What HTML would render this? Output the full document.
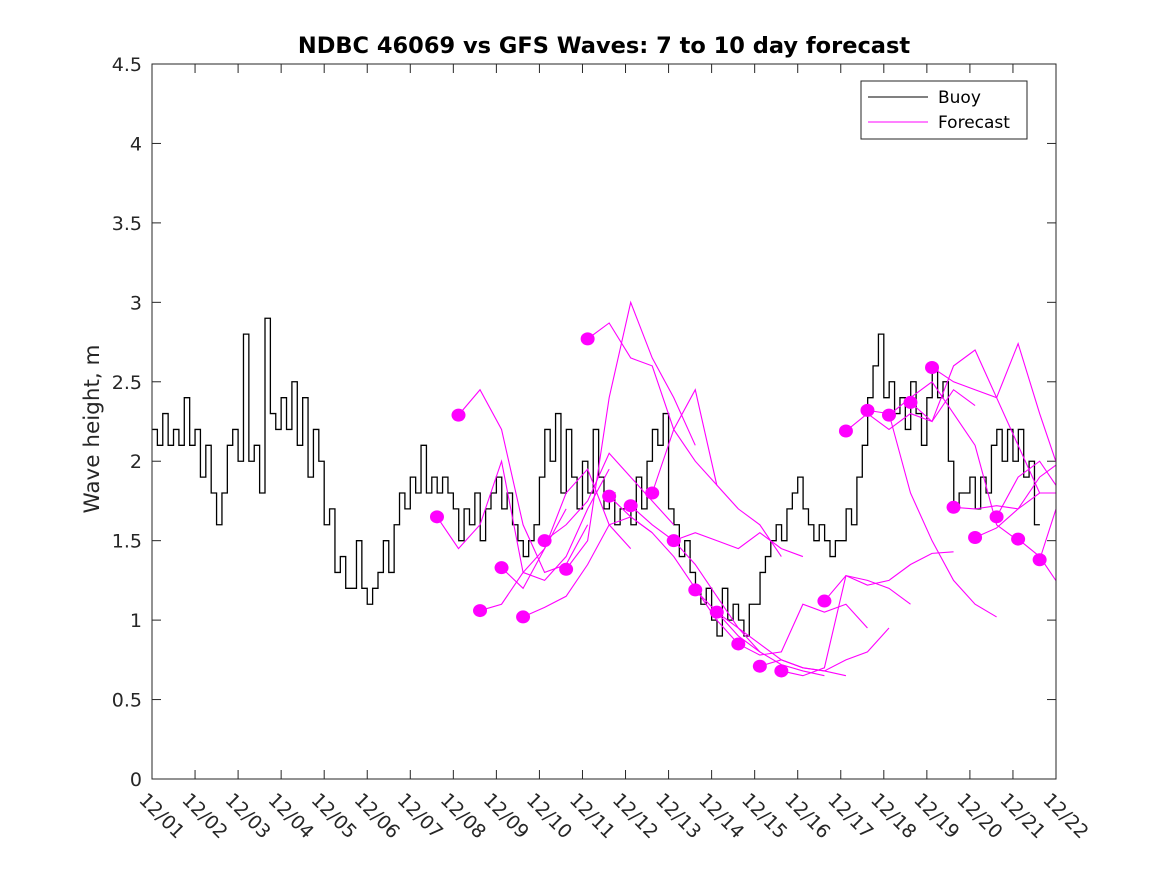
<!DOCTYPE html>
<html><head><meta charset="utf-8"><style>
body{margin:0;background:#fff}
svg{display:block;font-family:"DejaVu Sans","Liberation Sans",sans-serif}
</style></head><body>
<svg id="chart" width="1167" height="875" viewBox="0 0 1167 875" xmlns="http://www.w3.org/2000/svg">
<rect width="1167" height="875" fill="#fff"/>
<text x="604" y="53" text-anchor="middle" font-size="22.5" font-weight="bold" fill="#000">NDBC 46069 vs GFS Waves: 7 to 10 day forecast</text>
<text transform="translate(99,429) rotate(-90)" text-anchor="middle" font-size="21.5" fill="#262626">Wave height, m</text>
<defs><clipPath id="pc"><rect x="152" y="64" width="904" height="715"/></clipPath></defs>
<g id="axes"></g>
<g id="buoy" clip-path="url(#pc)"></g>
<g id="fc" clip-path="url(#pc)"></g>
<rect x="152" y="64" width="904" height="715" fill="none" stroke="#262626" stroke-width="1"/>
<g>
<rect x="861" y="81" width="166" height="58" fill="#fff" stroke="#262626"/>
<line x1="868" y1="97" x2="928" y2="97" stroke="#000"/>
<text x="938" y="103" font-size="17" fill="#000">Buoy</text>
<line x1="868" y1="122" x2="928" y2="122" stroke="#f0f"/>
<text x="938" y="128" font-size="17" fill="#000">Forecast</text>
</g>
</svg>
<script>
const yTicks=[0,0.5,1,1.5,2,2.5,3,3.5,4,4.5];
const yTickLabels=["0","0.5","1","1.5","2","2.5","3","3.5","4","4.5"];
const xTickLabels=["12/01","12/02","12/03","12/04","12/05","12/06","12/07","12/08","12/09","12/10","12/11","12/12","12/13","12/14","12/15","12/16","12/17","12/18","12/19","12/20","12/21","12/22"];
// buoy: 3-hourly values starting 12/01 00:00 (8 per day)
const buoyValues=[
2.2,2.1,2.3,2.1,2.2,2.1,2.4,2.1,
2.2,1.9,2.1,1.8,1.6,1.8,2.1,2.2,
2.0,2.8,2.0,2.1,1.8,2.9,2.3,2.2,
2.4,2.2,2.5,2.1,2.4,1.9,2.2,2.0,
1.6,1.7,1.3,1.4,1.2,1.2,1.5,1.2,
1.1,1.2,1.3,1.5,1.3,1.6,1.8,1.7,
1.9,1.8,2.1,1.8,1.9,1.8,1.9,1.8,
1.7,1.5,1.7,1.6,1.8,1.5,1.7,1.8,
1.9,1.7,1.8,1.6,1.5,1.4,1.5,1.6,
1.9,2.2,2.0,2.3,1.8,2.2,1.9,1.7,
2.0,1.8,2.2,1.9,1.7,1.8,1.6,1.7,
1.7,1.6,1.9,1.7,2.0,2.2,2.1,2.3,
1.7,1.6,1.4,1.5,1.3,1.2,1.1,1.2,
1.0,0.9,1.2,1.0,1.1,1.0,0.9,1.1,
1.1,1.3,1.4,1.5,1.6,1.5,1.7,1.8,
1.9,1.7,1.6,1.5,1.6,1.5,1.4,1.5,
1.5,1.7,1.6,1.9,2.1,2.4,2.6,2.8,
2.4,2.5,2.3,2.4,2.2,2.5,2.3,2.1,
2.4,2.6,2.4,2.5,2.0,1.7,1.8,1.8,
1.9,1.7,1.9,1.8,2.1,2.2,2.0,2.2,
2.0,2.2,1.9,2.0,1.6];
// forecast start days (from 12/01) and 12-hourly values
const fcStart=[6.62,7.12,7.62,8.12,8.62,9.12,9.62,10.12,10.62,11.12,11.62,12.12,12.62,13.12,13.62,14.12,14.62,15.62,16.12,16.62,17.12,17.62,18.12,18.62,19.12,19.62,20.12,20.62];
const fc01=[1.65,1.45,1.6,2.0,1.3,1.45,1.7];
const fc02=[2.29,2.45,2.2,1.6,1.3,1.35,1.6];
const fc03=[1.06,1.1,1.3,1.25,1.4,1.7,1.95];
const fc04=[1.33,1.2,1.45,1.8,1.95,1.6,1.45];
const fc05=[1.02,1.08,1.15,1.35,1.6,1.65,1.55];
const fc06=[1.5,1.6,1.75,2.05,1.9,1.75,1.6];
const fc07=[1.32,1.5,2.4,3.0,2.65,2.4,2.1];
const fc08=[2.77,2.87,2.65,2.6,2.2,2.0,1.85];
const fc09=[1.78,1.65,1.55,1.4,1.2,1.0,0.85];
const fc10=[1.72,1.6,1.5,1.35,1.15,0.95,0.8];
const fc11=[1.8,2.2,2.45,1.85,1.7,1.6,1.4];
const fc12=[1.5,1.55,1.5,1.45,1.55,1.45,1.4];
const fc13=[1.19,1.05,0.9,0.8,0.72,0.68,0.65];
const fc14=[1.05,0.95,0.85,0.75,0.7,0.68,0.65];
const fc15=[0.85,0.78,0.8,1.1,1.05,1.1,0.95];
const fc16=[0.71,0.75,0.7,0.68,0.75,0.8,0.95];
const fc17=[0.68,0.65,0.7,1.28,1.25,1.2,1.1];
const fc18=[1.12,1.28,1.22,1.25,1.35,1.42,1.43];
const fc19=[2.19,2.3,2.2,2.3,2.25,2.45,2.35];
const fc20=[2.32,2.3,1.8,1.5,1.25,1.1,1.02];
const fc21=[2.29,2.4,2.5,2.3,2.1,1.6,1.5];
const fc22=[2.37,2.25,2.6,2.7,2.4,2.1,1.8];
const fc23=[2.59,2.5,2.45,2.4,2.74,2.3,1.9];
const fc24=[1.71,1.7,1.72,1.7,1.9,2.0,1.8];
const fc25=[1.52,1.58,1.7,1.8,1.8,1.6,1.35];
const fc26=[1.65,1.9,2.0,1.8,1.55,1.3,1.15];
const fc27=[1.51,1.4,1.2,0.95];
const fc28=[1.38,1.8,2.4];
const fcSeries=[fc01,fc02,fc03,fc04,fc05,fc06,fc07,fc08,fc09,fc10,fc11,fc12,fc13,fc14,fc15,fc16,fc17,fc18,fc19,fc20,fc21,fc22,fc23,fc24,fc25,fc26,fc27,fc28];

const NS="http://www.w3.org/2000/svg";
const X0=152,X1=1056,Y0=779,Y1=64;
function xs(d){return X0+(X1-X0)*d/21;}
function ys(v){return Y0-(Y0-Y1)*v/4.5;}
function mk(t,a,parent){const e=document.createElementNS(NS,t);for(const k in a)e.setAttribute(k,a[k]);parent.appendChild(e);return e;}
const axes=document.getElementById('axes');
yTicks.forEach((v,i)=>{
  const y=ys(v);
  const t1=mk('line',{x1:X0,y1:y,x2:X0+9,y2:y,stroke:'#262626'},axes);
  
  
  const t2=mk('line',{x1:X1,y1:y,x2:X1-9,y2:y,stroke:'#262626'},axes);
  
  
  const l=mk('text',{x:X0-10,y:y+7,'text-anchor':'end','font-size':19,fill:'#262626'},axes);
  l.textContent=yTickLabels[i];
  
  
});
xTickLabels.forEach((s,i)=>{
  const x=xs(i);
  const t1=mk('line',{x1:x,y1:Y0,x2:x,y2:Y0-9,stroke:'#262626'},axes);
  
  
  const t2=mk('line',{x1:x,y1:Y1,x2:x,y2:Y1+9,stroke:'#262626'},axes);
  
  
  const l=mk('text',{transform:`translate(${x-14},${Y0+22}) rotate(45)`,'font-size':19,fill:'#262626'},axes);
  l.textContent=s;
  
  
});
// buoy stair line
const bg=document.getElementById('buoy');
let d='';
buoyValues.forEach((v,i)=>{
  const xa=xs(i/8),xb=xs((i+1)/8),y=ys(v);
  d+=(i===0?`M${xa},${y}`:`L${xa},${y}`)+`L${xb},${y}`;
});
const bp=mk('path',{d:d,fill:'none',stroke:'#000','stroke-width':1.3},bg);


// forecasts
const fg=document.getElementById('fc');
fcSeries.forEach((arr,k)=>{
  const s=fcStart[k];
  const pd=arr.map((v,j)=>(j?'L':'M')+xs(s+j*0.5)+','+ys(v)).join('');
  const p=mk('path',{d:pd,fill:'none',stroke:'#f0f','stroke-width':1.1},fg);
  
  
});
fcSeries.forEach((arr,k)=>{
  const c=mk('ellipse',{cx:xs(fcStart[k]),cy:ys(arr[0]),rx:7,ry:6.5,fill:'#f0f'},fg);
  
  
});
</script>
</body></html>
